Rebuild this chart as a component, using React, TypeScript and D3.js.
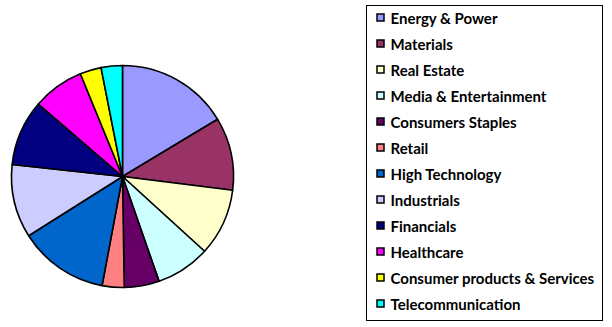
import React, { useEffect, useRef } from 'react';
import * as d3 from 'd3';

const sectors = [
    'Energy & Power', 'Materials', 'Real Estate', 'Media & Entertainment',
    'Consumers Staples', 'Retail', 'High Technology', 'Industrials',
    'Financials', 'Healthcare', 'Consumer products & Services', 'Telecommunication'
];
const shares = [16.4, 10.6, 9.8, 7.9, 5.1, 3.2, 13.1, 10.7, 9.6, 7.5, 3.1, 3.1];
const colors = [
    '#9999ff', '#993366', '#ffffcc', '#ccffff', '#660066', '#ff8080',
    '#0066cc', '#ccccff', '#000080', '#ff00ff', '#ffff00', '#00ffff'
];

const App = () => {
    const ref = useRef<SVGSVGElement>(null);

    // pie
    const cx = 122.5;
    const cy = 176.5;
    const radius = 111;
    // legend
    const box_x = 366.5;
    const box_y = 5.5;
    const box_w = 236;
    const box_h = 315;
    const row_y0 = 17.5;
    const row_space = 26;

    useEffect(() => {
        const svg = d3.select(ref.current);
        svg.selectAll('*').remove();

        const data = sectors.map((name, i) => ({ name, value: shares[i], color: colors[i] }));

        const pie = d3.pie<any>().sort(null).value(d => d.value);
        const arc = d3.arc<any>().innerRadius(0).outerRadius(radius);

        const pieGroup = svg.append('g')
            .attr('transform', `translate(${cx},${cy})`);

        pieGroup.selectAll('path')
            .data(pie(data))
            .enter().append('path')
            .attr('d', arc)
            .attr('fill', d => d.data.color)
            .attr('stroke', '#000')
            .attr('stroke-width', 1.6)
            .attr('stroke-linejoin', 'round');

        // legend box
        svg.append('rect')
            .attr('x', box_x)
            .attr('y', box_y)
            .attr('width', box_w)
            .attr('height', box_h)
            .attr('fill', '#fff')
            .attr('stroke', '#000')
            .attr('stroke-width', 1);

        const rows = svg.selectAll('.legend')
            .data(data)
            .enter().append('g')
            .attr('class', 'legend')
            .attr('transform', (d, i) => `translate(${box_x + 10}, ${row_y0 + i * row_space})`);

        rows.append('rect')
            .attr('x', 0.5)
            .attr('y', -3.5)
            .attr('width', 7)
            .attr('height', 7)
            .attr('fill', d => d.color)
            .attr('stroke', '#000')
            .attr('stroke-width', 1.5);

        rows.append('text')
            .attr('x', 14)
            .attr('y', 6)
            .attr('fill', '#000')
            .style('font-family', 'Lato, "Open Sans", sans-serif')
            .style('font-weight', 'bold')
            .style('font-size', '15px')
            .text(d => d.name);
    }, []);

    return (
        <svg ref={ref} width={612} height={327}
            style={{ position: 'absolute', left: 0, top: 0, background: '#fff' }} />
    );
};

export default App;
